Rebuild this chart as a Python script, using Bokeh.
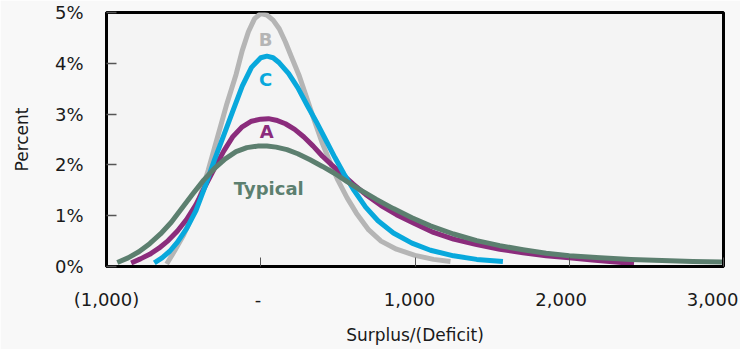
from bokeh.plotting import figure
from bokeh.models import Range1d, LinearAxis, FixedTicker, ColumnDataSource
from bokeh.embed import file_html
from bokeh.resources import INLINE
from bokeh.core.properties import value

# Axis ticks and their printed labels
x_ticks = [-1000, 0, 1000, 2000, 3000]
x_tick_labels = ["(1,000)", "-", "1,000", "2,000", "3,000"]
y_ticks = [0, 1, 2, 3, 4, 5]
y_tick_labels = ["0%", "1%", "2%", "3%", "4%", "5%"]

# Distribution B (percent of outcomes by surplus/(deficit))
b_x = [-610, -560, -500, -440, -400, -340, -280, -220, -160, -120, -80, -40, 0,
       40, 80, 120, 160, 200, 250, 300, 350, 400, 450, 500, 560, 620, 700, 780,
       880, 1000, 1120, 1230]
b_y = [0.05, 0.30, 0.62, 1.02, 1.32, 1.90, 2.55, 3.20, 3.78, 4.25, 4.62, 4.88, 4.98,
       4.95, 4.85, 4.68, 4.42, 4.12, 3.75, 3.30, 2.85, 2.42, 2.05, 1.70, 1.35, 1.05,
       0.72, 0.50, 0.34, 0.22, 0.14, 0.10]

# Distribution C
c_x = [-690, -640, -590, -540, -480, -420, -360, -300, -240, -180, -120, -60, 0,
       40, 80, 120, 180, 240, 300, 360, 420, 480, 540, 600, 680, 760, 860, 980,
       1100, 1250, 1400, 1570]
c_y = [0.07, 0.17, 0.30, 0.48, 0.75, 1.10, 1.58, 2.10, 2.58, 3.07, 3.55, 3.92, 4.11,
       4.14, 4.11, 4.01, 3.80, 3.52, 3.18, 2.85, 2.50, 2.15, 1.82, 1.52, 1.17, 0.90,
       0.66, 0.46, 0.32, 0.21, 0.14, 0.10]

# Distribution A
a_x = [-840, -780, -720, -660, -600, -540, -480, -420, -360, -300, -240, -180, -120,
       -60, 0, 50, 100, 160, 220, 280, 340, 400, 460, 520, 600, 680, 780, 880, 1000,
       1120, 1250, 1400, 1550, 1700, 1850, 2000, 2150, 2300, 2420]
a_y = [0.07, 0.15, 0.24, 0.36, 0.51, 0.70, 0.93, 1.22, 1.58, 1.93, 2.27, 2.56, 2.75,
       2.86, 2.90, 2.91, 2.88, 2.81, 2.70, 2.55, 2.37, 2.17, 2.00, 1.84, 1.62, 1.42,
       1.20, 1.02, 0.84, 0.67, 0.54, 0.43, 0.34, 0.27, 0.21, 0.17, 0.13, 0.09, 0.06]

# Typical distribution
t_x = [-930, -860, -790, -720, -650, -580, -510, -440, -370, -300, -230, -160, -90,
       -20, 40, 100, 170, 240, 320, 400, 480, 560, 650, 750, 860, 980, 1100, 1250,
       1400, 1550, 1700, 1850, 2000, 2200, 2400, 2600, 2800, 2990]
t_y = [0.08, 0.17, 0.29, 0.45, 0.64, 0.87, 1.15, 1.43, 1.70, 1.93, 2.12, 2.26, 2.34,
       2.37, 2.37, 2.35, 2.30, 2.22, 2.10, 1.97, 1.83, 1.67, 1.50, 1.32, 1.14, 0.96,
       0.80, 0.64, 0.51, 0.41, 0.33, 0.26, 0.21, 0.17, 0.14, 0.12, 0.10, 0.09]

# Series names, colours and where their names sit
series_names = ["B", "A", "C", "Typical"]
series_colors = ["#b5b5b5", "#8b2c7c", "#08a8dc", "#5c7f6f"]
label_x = [32, 39, 32, 52]
label_y = [4.47, 2.65, 3.68, 1.54]

FONT = "DejaVu Sans"

p = figure(width=740, height=349,
           x_range=Range1d(-1000, 3000), y_range=Range1d(0, 5),
           output_backend="svg", toolbar_location=None,
           min_border_left=106, min_border_right=17,
           min_border_top=12, min_border_bottom=83)

p.background_fill_color = "#f4f4f4"
p.border_fill_color = "#f8f8f8"
p.outline_line_color = "black"
p.outline_line_width = 3
p.grid.visible = False

# y axis
ya = p.yaxis[0]
ya.ticker = FixedTicker(ticks=y_ticks)
ya.major_label_overrides = {t: s for t, s in zip(y_ticks, y_tick_labels)}
ya.axis_line_color = "black"
ya.axis_line_width = 3
ya.major_tick_in = 10
ya.major_tick_out = 0
ya.major_tick_line_color = "#555555"
ya.major_tick_line_width = 1.5
ya.minor_tick_line_color = None
ya.major_label_standoff = 23
ya.major_label_text_font = FONT
ya.major_label_text_font_size = "18px"
ya.major_label_text_color = "#1a1a1a"
ya.axis_label = "Percent"
ya.axis_label_standoff = 20
ya.axis_label_text_font = FONT
ya.axis_label_text_font_size = "17px"
ya.axis_label_text_font_style = "normal"
ya.axis_label_text_color = "#1a1a1a"

# x axis: line and inward ticks
xa = p.xaxis[0]
xa.ticker = FixedTicker(ticks=x_ticks)
xa.major_label_overrides = {t: "" for t in x_ticks}
xa.major_label_text_font_size = "0px"
xa.major_label_standoff = 0
xa.axis_line_color = "black"
xa.axis_line_width = 3
xa.major_tick_in = 9
xa.major_tick_out = 0
xa.major_tick_line_color = "#555555"
xa.major_tick_line_width = 1
xa.minor_tick_line_color = None

# x axis tick labels, on a slightly stretched copy of the x range so the
# printed values sit a little left of their ticks
p.extra_x_ranges = {"labels": Range1d(-1000, 3072)}
xl = LinearAxis(x_range_name="labels", ticker=FixedTicker(ticks=x_ticks))
xl.major_label_overrides = {t: s for t, s in zip(x_ticks, x_tick_labels)}
xl.axis_line_color = None
xl.major_tick_line_color = None
xl.minor_tick_line_color = None
xl.major_label_standoff = 16
xl.major_label_text_font = FONT
xl.major_label_text_font_size = "18px"
xl.major_label_text_color = "#1a1a1a"
xl.axis_label = "Surplus/(Deficit)"
xl.axis_label_standoff = 12
xl.axis_label_text_font = FONT
xl.axis_label_text_font_size = "17px"
xl.axis_label_text_font_style = "normal"
xl.axis_label_text_color = "#1a1a1a"
p.add_layout(xl, "below")

# Curves
curves = {"B": (b_x, b_y), "A": (a_x, a_y), "C": (c_x, c_y), "Typical": (t_x, t_y)}
for name, color in zip(series_names, series_colors):
    xs, ys = curves[name]
    p.line(xs, ys, line_width=5, line_color=color, line_join="round", line_cap="butt")

# Curve names
src = ColumnDataSource(dict(x=label_x, y=label_y, text=series_names, color=series_colors))
p.text(x="x", y="y", text="text", text_color="color", source=src,
       text_font=value(FONT), text_font_style="bold", text_font_size="18px",
       text_align="center", text_baseline="middle")

open("out.html", "w").write(file_html(p, INLINE))
